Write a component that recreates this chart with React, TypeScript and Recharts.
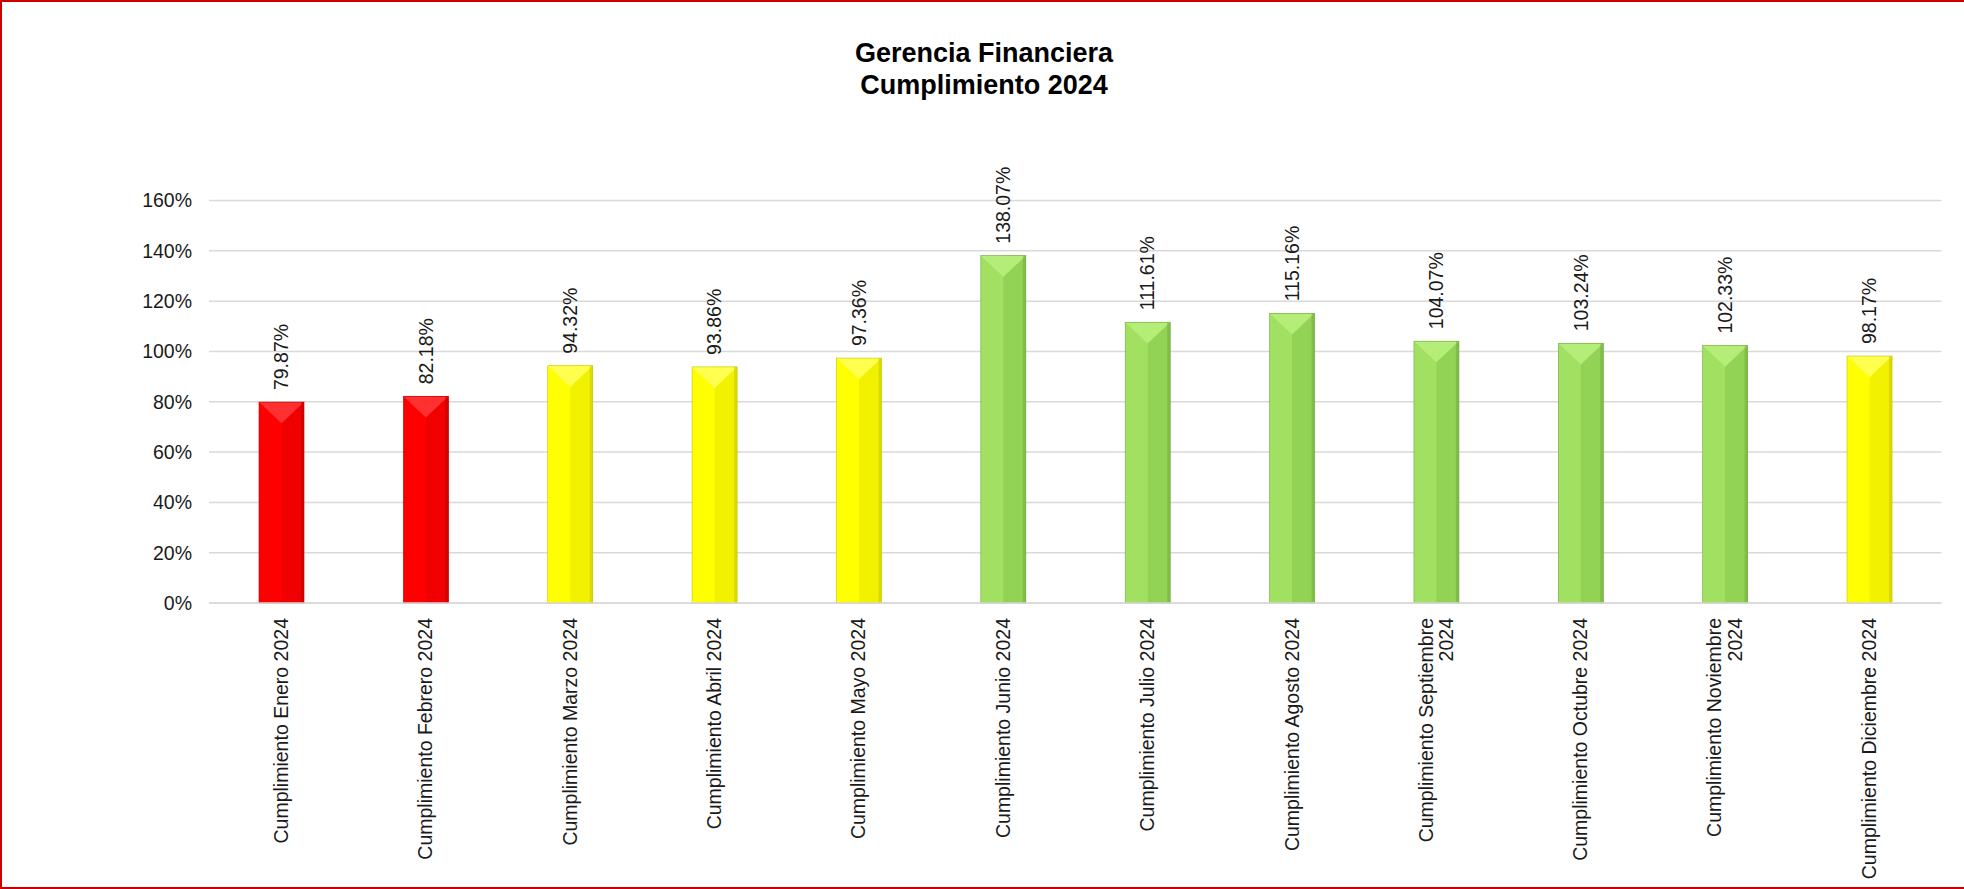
import { BarChart, Bar, XAxis, YAxis, CartesianGrid, LabelList } from "recharts"

const months = [
  "Cumplimiento Enero 2024",
  "Cumplimiento Febrero 2024",
  "Cumplimiento Marzo 2024",
  "Cumplimiento Abril 2024",
  "Cumplimiento Mayo 2024",
  "Cumplimiento Junio 2024",
  "Cumplimiento Julio 2024",
  "Cumplimiento Agosto 2024",
  "Cumplimiento Septiembre\n2024",
  "Cumplimiento Octubre 2024",
  "Cumplimiento Noviembre\n2024",
  "Cumplimiento Diciembre 2024",
]

const cumplimiento = [79.87, 82.18, 94.32, 93.86, 97.36, 138.07, 111.61, 115.16, 104.07, 103.24, 102.33, 98.17]

const yTicks = [0, 20, 40, 60, 80, 100, 120, 140, 160]

const FONT = "'Liberation Sans', Arial, sans-serif"

// semaforo: rojo < 90, amarillo < 100, verde >= 100
function palette(v: number) {
  if (v < 90) return { base: "#ff0000", right: "#f00000", top: "#ff3030", edge: "#b80000" }
  if (v < 100) return { base: "#ffff00", right: "#f2f200", top: "#ffff50", edge: "#c4c400" }
  return { base: "#a2e062", right: "#92d254", top: "#b4ee78", edge: "#72a83e" }
}

function BevelBar(props: any) {
  const { x, y, width: w, height: h, value } = props
  const v = Array.isArray(value) ? value[1] : value
  const c = palette(v)
  const tri = Math.min(w * 0.47, h)
  return (
    <g>
      <rect x={x} y={y} width={w} height={h} fill={c.base} />
      <rect x={x + w / 2} y={y} width={w / 2} height={h} fill={c.right} />
      <polygon points={`${x},${y} ${x + w},${y} ${x + w / 2},${y + tri}`} fill={c.top} />
      <rect x={x + w - 3} y={y} width={3} height={h} fill={c.edge} opacity={0.5} />
      <rect x={x} y={y} width={w} height={h} fill="none" stroke={c.edge} strokeWidth={0.6} />
    </g>
  )
}

function MonthTick(props: any) {
  const { x, y, payload } = props
  const lines = String(payload.value).split("\n")
  const lh = 20.8
  const first = 6.8 - ((lines.length - 1) * lh) / 2
  return (
    <text
      x={x}
      y={y + 13}
      transform={`rotate(-90, ${x}, ${y + 13})`}
      textAnchor="end"
      fontSize={19.5}
      fontFamily={FONT}
      fill="#1a1a1a"
    >
      {lines.map((l, i) => (
        <tspan key={i} x={x} dy={i === 0 ? first : lh}>
          {l}
        </tspan>
      ))}
    </text>
  )
}

function ValueLabel(props: any) {
  const { x, y, width, value } = props
  const cx = x + width / 2
  const ty = y - 12
  return (
    <text
      x={cx}
      y={ty}
      dy={6.8}
      transform={`rotate(-90, ${cx}, ${ty})`}
      textAnchor="start"
      fontSize={19.5}
      fontFamily={FONT}
      fill="#1a1a1a"
    >
      {`${Number(value).toFixed(2)}%`}
    </text>
  )
}

export default function App() {
  const data = months.map((m, i) => ({ mes: m, valor: cumplimiento[i] }))

  return (
    <div
      style={{
        position: "absolute",
        left: 0,
        top: 0,
        width: 1964,
        height: 889,
        background: "#fff",
        boxSizing: "border-box",
        borderTop: "2px solid #cc0000",
        borderLeft: "2px solid #cc0000",
        borderBottom: "2px solid #cc0000",
        borderRight: "0",
        overflow: "hidden",
      }}
    >
      <div
        style={{
          position: "absolute",
          left: 0,
          top: 35,
          width: 1964,
          textAlign: "center",
          fontFamily: FONT,
          fontWeight: "bold",
          fontSize: 27,
          lineHeight: "32px",
          color: "#000",
        }}
      >
        <div>Gerencia Financiera</div>
        <div>Cumplimiento 2024</div>
      </div>
      <div style={{ position: "absolute", left: -2, top: -2 }}>
        <BarChart
          width={1964}
          height={889}
          data={data}
          margin={{ top: 200.5, right: 22.6, bottom: 0, left: 0 }}
        >
          <CartesianGrid vertical={false} stroke="#d9d9d9" strokeWidth={1.5} />
          <XAxis
            dataKey="mes"
            interval={0}
            height={286}
            tickLine={false}
            tickSize={0}
            axisLine={{ stroke: "#d9d9d9", strokeWidth: 1.5 }}
            tick={<MonthTick />}
          />
          <YAxis
            width={209}
            domain={[0, 160]}
            ticks={yTicks}
            tickFormatter={(v) => `${v}%`}
            axisLine={false}
            tickLine={false}
            tickSize={0}
            tickMargin={17}
            tick={{ fontSize: 19.5, fontFamily: FONT, fill: "#1a1a1a" }}
          />
          <Bar dataKey="valor" barSize={45} shape={<BevelBar />} isAnimationActive={false}>
            <LabelList dataKey="valor" content={<ValueLabel />} />
          </Bar>
        </BarChart>
      </div>
    </div>
  )
}
